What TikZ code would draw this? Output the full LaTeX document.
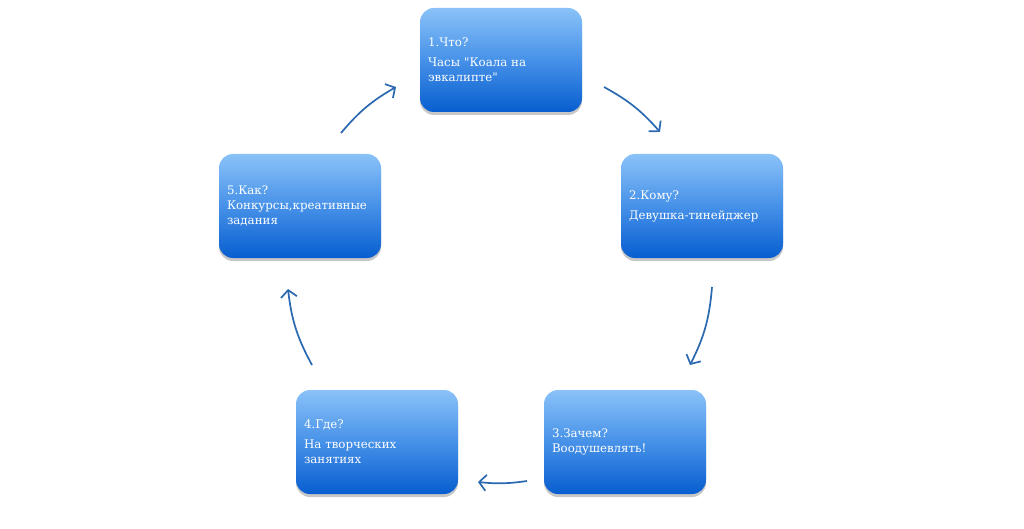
\documentclass[tikz,border=0pt]{standalone}
\usepackage{fontspec}
\setmainfont{DejaVu Serif}[Ligatures=TeXOff]
\usepackage{xcolor}
\usetikzlibrary{arrows.meta,shadows,positioning}
\definecolor{boxtop}{RGB}{138,194,248}
\definecolor{boxmid}{RGB}{70,145,232}
\definecolor{boxbot}{RGB}{8,94,208}
\definecolor{arrowblue}{RGB}{42,104,176}

\begin{document}
\begin{tikzpicture}[
    x=1pt,y=-1pt,
    stage/.style={rectangle,rounded corners=14pt,minimum width=162pt,minimum height=104pt,
        text width=146pt,inner xsep=8pt,align=left,text=white,
        top color=boxtop,bottom color=boxbot,middle color=boxmid,
        drop shadow={shadow xshift=0pt,shadow yshift=-3pt,opacity=0.22,fill=black},
        font=\fontsize{11.8}{15}\selectfont},
    cycle/.style={draw=arrowblue,line width=1.7pt,-{Straight Barb[length=7pt,width=16pt,line width=1.7pt]}}
]
\useasboundingbox (0,0) rectangle (1024,529);

\node[stage] (what) at (501,60) {1.Что?\\[5pt]Часы "Коала на\\эвкалипте"};
\node[stage] (whom) at (702,206) {2.Кому?\\[5pt]Девушка-тинейджер};
\node[stage] (why) at (625,442) {3.Зачем?\\Воодушевлять!};
\node[stage] (where) at (377,442) {4.Где?\\[5pt]На творческих\\занятиях};
\node[stage] (how) at (300,206) {5.Как?\\Конкурсы,креативные\\задания};

% arrow ends on the ring
\coordinate (a1) at (604,87);  \coordinate (b1) at (660,132);
\coordinate (a2) at (712,287); \coordinate (b2) at (690,365);
\coordinate (a3) at (527,481); \coordinate (b3) at (478,482);
\coordinate (a4) at (312,365); \coordinate (b4) at (288,289);
\coordinate (a5) at (341,133); \coordinate (b5) at (396,87);

\draw[cycle] (a1) to[bend left=10] (b1);
\draw[cycle] (a2) to[bend left=11] (b2);
\draw[cycle] (a3) to[bend left=7] (b3);
\draw[cycle] (a4) to[bend left=11] (b4);
\draw[cycle] (a5) to[bend left=10] (b5);
\end{tikzpicture}
\end{document}
